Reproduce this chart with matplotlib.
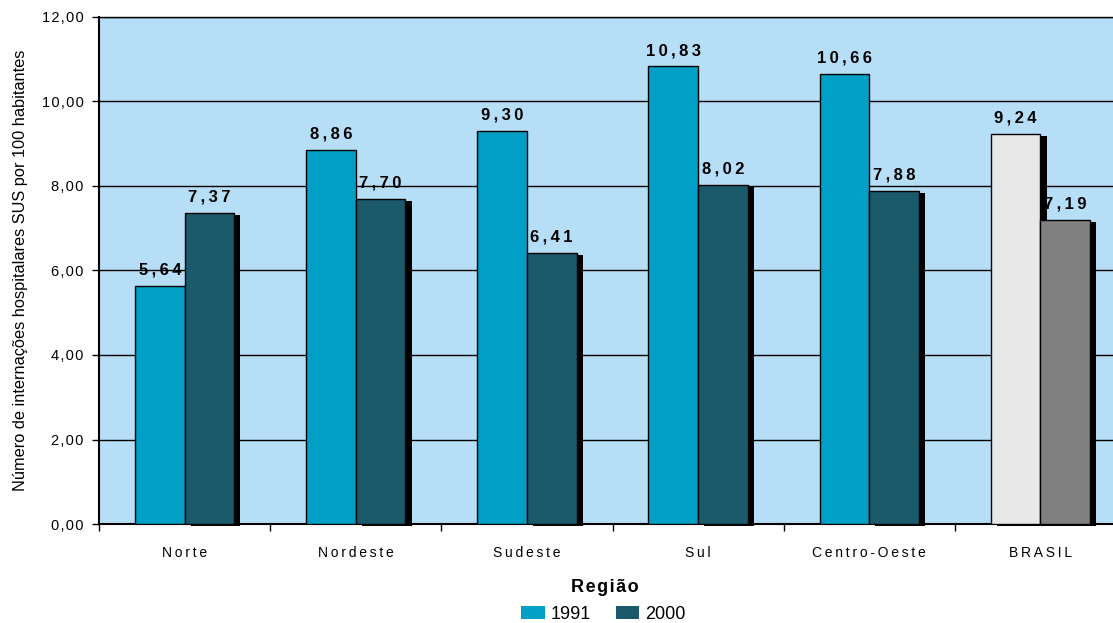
import numpy as np
import matplotlib
matplotlib.use("Agg")
import matplotlib.pyplot as plt
import matplotlib.patches as mpatches

plt.rcParams["font.family"] = ["Liberation Sans", "DejaVu Sans"]

regions = ["Norte", "Nordeste", "Sudeste", "Sul", "Centro-Oeste", "BRASIL"]
vals_1991 = [5.64, 8.86, 9.30, 10.83, 10.66, 9.24]
vals_2000 = [7.37, 7.70, 6.41, 8.02, 7.88, 7.19]
series_names = ["1991", "2000"]
yticks = [0, 2, 4, 6, 8, 10, 12]

BG = "#B6DEF6"
C1991 = "#00A0C6"
C2000 = "#1B5A6B"
BR1991 = "#E8E8E8"
BR2000 = "#808080"


def spaced(s, sp="\u2009"):
    return sp.join(s)


def fmt(v):
    return f"{v:.2f}".replace(".", ",")


fig = plt.figure(figsize=(11.13, 6.23), dpi=100)
ax = fig.add_axes([99 / 1113, 99 / 623, 1027 / 1113, 507 / 623])
ax.set_facecolor(BG)

x = np.arange(len(regions))
w = 0.29
dx, dy = 0.036, 0.05

c1 = [C1991] * (len(regions) - 1) + [BR1991]
c2 = [C2000] * (len(regions) - 1) + [BR2000]

# shadows (2000 series and the BRASIL 1991 bar)
ax.bar(x + w / 2 + dx, vals_2000, w, bottom=-dy, color="black", zorder=2, clip_on=False)
ax.bar(x[-1:] - w / 2 + dx, vals_1991[-1:], w, bottom=-dy, color="black", zorder=2, clip_on=False)

b1 = ax.bar(x - w / 2, vals_1991, w, color=c1, edgecolor="black", linewidth=1, zorder=3)
b2 = ax.bar(x + w / 2, vals_2000, w, color=c2, edgecolor="black", linewidth=1, zorder=3)

for bars, vals in [(b1, vals_1991), (b2, vals_2000)]:
    for r, v in zip(bars, vals):
        ax.annotate(spaced(fmt(v)), (r.get_x() + r.get_width() / 2, v),
                    xytext=(0, 6), textcoords="offset points",
                    ha="center", va="bottom", fontsize=12, fontweight="bold",
                    zorder=5)

ax.set_xlim(-0.5, len(regions) - 0.5)
ax.set_ylim(0, 12)
ax.set_yticks(yticks)
ax.set_yticklabels([spaced(fmt(t), "\u200a") for t in yticks], fontsize=10.5)
ax.yaxis.grid(True, color="black", linewidth=1)
ax.set_axisbelow(True)

ax.set_xticks(x)
ax.set_xticklabels([spaced(r) for r in regions], fontsize=10)
ax.set_xticks(np.arange(len(regions) + 1) - 0.5, minor=True)
ax.tick_params(axis="x", which="major", length=0, pad=16)
ax.tick_params(axis="x", which="minor", length=5, width=1, direction="out")
ax.tick_params(axis="y", length=5, width=1, direction="out", pad=6)

for s in ax.spines.values():
    s.set_color("black")
    s.set_linewidth(1)
ax.spines["left"].set_linewidth(1.5)
ax.spines["bottom"].set_linewidth(1.5)

ax.set_ylabel("Número de internações hospitalares SUS por 100 habitantes", fontsize=11.8, labelpad=10)

fig.text(0.543, 0.043, spaced("Região", "\u200a"), ha="center", va="bottom",
         fontsize=13, fontweight="bold")

handles = [mpatches.Patch(facecolor=C1991), mpatches.Patch(facecolor=C2000)]
fig.legend(handles, series_names, loc="lower center", bbox_to_anchor=(0.542, -0.02),
           ncol=2, frameon=False, fontsize=13, handlelength=1.3, handleheight=0.75,
           handletextpad=0.3, columnspacing=1.4, borderaxespad=0.3)

fig.savefig("out.png", dpi=100)
